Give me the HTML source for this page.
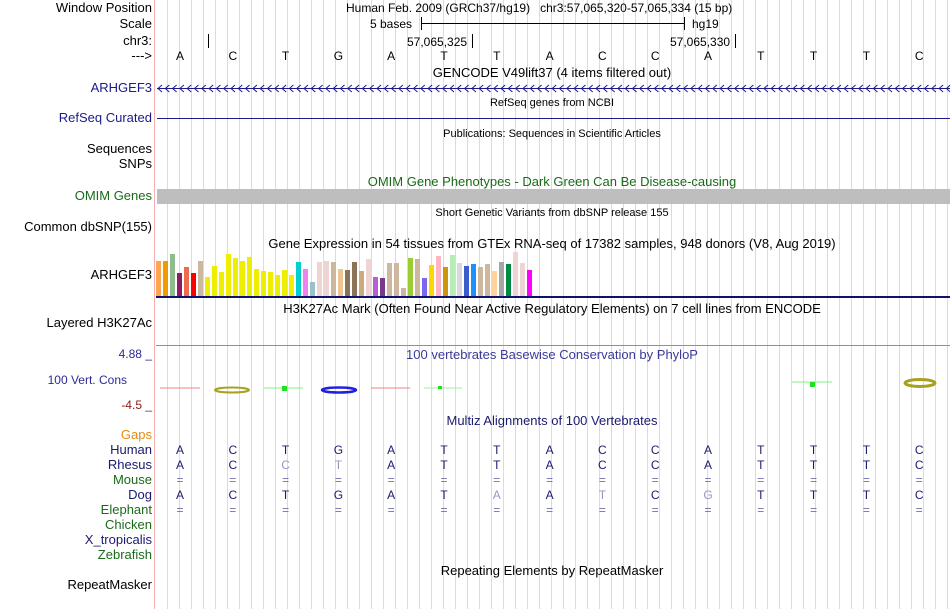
<!DOCTYPE html>
<html><head><meta charset="utf-8">
<style>
body{margin:0;background:#fff;}
#root{position:relative;width:950px;height:609px;overflow:hidden;background:#fff;font-family:"Liberation Sans",sans-serif;font-size:12px;color:#000;}
.t{position:absolute;white-space:nowrap;line-height:14px;}
.lbl{position:absolute;right:798px;white-space:nowrap;line-height:14px;font-size:13px;}
.ctr{position:absolute;white-space:nowrap;line-height:14px;transform:translateX(-50%);}
.big{font-size:13px;}
.sm{font-size:11px;}
.grid{position:absolute;top:0;width:1px;height:609px;background:#d8d8f4;}
.ln{position:absolute;}
</style></head>
<body>
<div id="root">
<div id="grid"></div>
<div class="ln" style="left:154px;top:0;width:1px;height:609px;background:#f4b0b0"></div>

<div class="lbl" style="top:1px">Window Position</div>
<div class="lbl" style="top:17px">Scale</div>
<div class="lbl" style="top:34px">chr3:</div>
<div class="lbl" style="top:49px">---&gt;</div>
<div class="lbl" style="top:81px;color:#1a1a8c">ARHGEF3</div>
<div class="lbl" style="top:111px;color:#1a1a8c">RefSeq Curated</div>
<div class="lbl" style="top:142px">Sequences</div>
<div class="lbl" style="top:157px">SNPs</div>
<div class="lbl" style="top:189px;color:#1a6a1a">OMIM Genes</div>
<div class="lbl" style="top:220px">Common dbSNP(155)</div>
<div class="lbl" style="top:268px">ARHGEF3</div>
<div class="lbl" style="top:316px">Layered H3K27Ac</div>
<div class="lbl" style="top:347px;color:#2a2a9a;font-size:12px">4.88 _</div>
<div class="lbl" style="top:373px;right:823px;color:#2a2a9a;font-size:12px">100 Vert. Cons</div>
<div class="lbl" style="top:398px;color:#8b1a1a;font-size:12px">-4.5 _</div>
<div class="lbl" style="top:428px;color:#e88a10">Gaps</div>
<div class="lbl" style="top:443px;color:#1a1a6e">Human</div>
<div class="lbl" style="top:458px;color:#1a1a6e">Rhesus</div>
<div class="lbl" style="top:473px;color:#1a6a1a">Mouse</div>
<div class="lbl" style="top:488px;color:#1a1a6e">Dog</div>
<div class="lbl" style="top:503px;color:#1a6a1a">Elephant</div>
<div class="lbl" style="top:518px;color:#1a6a1a">Chicken</div>
<div class="lbl" style="top:533px;color:#1a1a6e">X_tropicalis</div>
<div class="lbl" style="top:548px;color:#1a6a1a">Zebrafish</div>
<div class="lbl" style="top:578px">RepeatMasker</div>

<div class="t" style="left:346px;top:1px">Human Feb. 2009 (GRCh37/hg19)&nbsp;&nbsp;&nbsp;chr3:57,065,320-57,065,334 (15 bp)</div>
<div class="t" style="left:370px;top:17px">5 bases</div>
<div class="ln" style="left:421px;top:23px;width:264px;height:1px;background:#000"></div>
<div class="ln" style="left:421px;top:17px;width:1px;height:13px;background:#000"></div>
<div class="ln" style="left:684px;top:17px;width:1px;height:13px;background:#000"></div>
<div class="t" style="left:692px;top:17px">hg19</div>
<div class="ln" style="left:208px;top:34px;width:1px;height:14px;background:#000"></div>
<div class="t" style="left:407px;top:35px">57,065,325</div>
<div class="ln" style="left:472px;top:34px;width:1px;height:14px;background:#000"></div>
<div class="t" style="left:670px;top:35px">57,065,330</div>
<div class="ln" style="left:735px;top:34px;width:1px;height:14px;background:#000"></div>
<div id="bases"></div>

<div class="ctr big" style="left:552px;top:66px">GENCODE V49lift37 (4 items filtered out)</div>
<svg id="gencode" class="ln" style="left:0;top:82px" width="950" height="14"></svg>
<div class="ctr sm" style="left:552px;top:96px">RefSeq genes from NCBI</div>
<div class="ln" style="left:157px;top:118px;width:793px;height:1px;background:#1a1a8c"></div>
<div class="ctr sm" style="left:552px;top:127px">Publications: Sequences in Scientific Articles</div>
<div class="ctr big" style="left:552px;top:175px;color:#1a6a1a">OMIM Gene Phenotypes - Dark Green Can Be Disease-causing</div>
<div class="ln" style="left:157px;top:189px;width:793px;height:15px;background:#bebebe"></div>
<div class="ctr sm" style="left:552px;top:206px">Short Genetic Variants from dbSNP release 155</div>
<div class="ctr big" style="left:552px;top:237px">Gene Expression in 54 tissues from GTEx RNA-seq of 17382 samples, 948 donors (V8, Aug 2019)</div>
<svg id="gtex" class="ln" style="left:0;top:0" width="950" height="609"></svg>
<div class="ln" style="left:156px;top:296px;width:794px;height:2px;background:#10106e"></div>
<div class="ctr big" style="left:552px;top:302px">H3K27Ac Mark (Often Found Near Active Regulatory Elements) on 7 cell lines from ENCODE</div>
<div class="ln" style="left:156px;top:345px;width:794px;height:1px;background:#e07060"></div>
<div class="ctr big" style="left:552px;top:348px;color:#3a3a9a">100 vertebrates Basewise Conservation by PhyloP</div>
<svg class="ln" style="left:0;top:0" width="950" height="609">
 <line x1="160" y1="388" x2="200" y2="388" stroke="#f08080"/>
 <ellipse cx="232" cy="390" rx="17" ry="2.5" fill="none" stroke="#a8a020" stroke-width="2"/>
 <line x1="264" y1="388" x2="303" y2="388" stroke="#80f080"/>
 <rect x="282" y="386" width="5" height="5" fill="#20e020"/>
 <ellipse cx="339" cy="390" rx="17" ry="2.5" fill="none" stroke="#2020e0" stroke-width="2.5"/>
 <line x1="371" y1="388" x2="410" y2="388" stroke="#f08080"/>
 <line x1="424" y1="388" x2="462" y2="388" stroke="#a0f0a0"/>
 <rect x="438" y="386" width="4" height="3" fill="#20e020"/>
 <line x1="792" y1="382" x2="832" y2="382" stroke="#80f080"/>
 <rect x="810" y="382" width="5" height="5" fill="#20e020"/>
 <ellipse cx="920" cy="383" rx="15" ry="3.5" fill="none" stroke="#a8a020" stroke-width="3"/>
</svg>
<div class="ctr big" style="left:552px;top:414px;color:#1a1a6e">Multiz Alignments of 100 Vertebrates</div>
<div id="aln"></div>
<div class="ctr big" style="left:552px;top:564px">Repeating Elements by RepeatMasker</div>
</div>
<script>
const tissueValues=[35,35,42,23,29,23,35,19,30,24,42,38,35,39,27,25,24,21,26,21,34,27,14,34,35,34,27,26,34,25,37,19,18,33,33,8,38,37,18,31,40,29,41,33,30,32,29,32,25,34,32,44,33,26];
const tissueColors=["#FFA54F","#EE9A00","#8FBC8F","#8B1C62","#EE6A50","#FF0000","#CDB79E","#EEEE00","#EEEE00","#EEEE00","#EEEE00","#EEEE00","#EEEE00","#EEEE00","#EEEE00","#EEEE00","#EEEE00","#EEEE00","#EEEE00","#EEEE00","#00CED1","#EE82EE","#9AC0CD","#EED5D2","#EED5D2","#CDB79E","#EEC591","#8B7355","#8B7355","#CDAA7D","#EED5D2","#B460D0","#7A378B","#CDB79E","#CDB79E","#CDB79E","#9ACD32","#CDB79E","#7B68EE","#FFD700","#FFB6C1","#CD950C","#B4EEB4","#D9D9D9","#3A5FCD","#1E90FF","#CDB79E","#CDB79E","#FFD39B","#A6A6A6","#008B45","#EED5D2","#EED5D2","#FF00FF"];
const bases=["A","C","T","G","A","T","T","A","C","C","A","T","T","T","C"];
const rhesus=["A","C","c","t","A","T","T","A","C","C","A","T","T","T","C"];
const dog=["A","C","T","G","A","T","a","A","t","C","g","T","T","T","C"];
const NS='http://www.w3.org/2000/svg';
const xBar=i=>156+i*7;
const yBar=v=>296-v;
const xBase=i=>180+i*52.8;
const g=document.getElementById('grid');
for(let x=167;x<950;x+=12){const d=document.createElement('div');d.className='grid';d.style.left=x+'px';


g.appendChild(d);}
const svg=document.getElementById('gtex');
tissueValues.forEach((v,i)=>{const r=document.createElementNS(NS,'rect');
r.setAttribute('x',xBar(i));r.setAttribute('y',yBar(v));r.setAttribute('width',5);r.setAttribute('height',v);r.setAttribute('fill',tissueColors[i]);


svg.appendChild(r);});
function row(arr,top,parent,name,eq){arr.forEach((b,i)=>{const d=document.createElement('div');d.className='ctr';d.style.left=xBase(i)+'px';d.style.top=top+'px';
let ch=b;let col='#1a1a6e';
if(eq){ch='=';col='#7070b0';}else if(b===b.toLowerCase()&&name!=='base'){ch=b.toUpperCase();col='#9898c0';}
if(name==='base')col='#000';
d.textContent=ch;d.style.color=col;


parent.appendChild(d);});}
row(bases,49,document.getElementById('bases'),'base',false);
const aln=document.getElementById('aln');
row(bases,443,aln,'human-base',false);
row(rhesus,458,aln,'rhesus-base',false);
row(bases,473,aln,'mouse-base',true);
row(dog,488,aln,'dog-base',false);
row(bases,503,aln,'elephant-base',true);
const gs=document.getElementById('gencode');
let p='M157 6.5H950';
for(let x=158;x<948;x+=7.3){p+=' M'+(x+4)+' 3L'+x+' 6.5L'+(x+4)+' 10';}
const path=document.createElementNS(NS,'path');path.setAttribute('d',p);path.setAttribute('stroke','#1a1a8c');path.setAttribute('fill','none');


gs.appendChild(path);
</script>
</body></html>
